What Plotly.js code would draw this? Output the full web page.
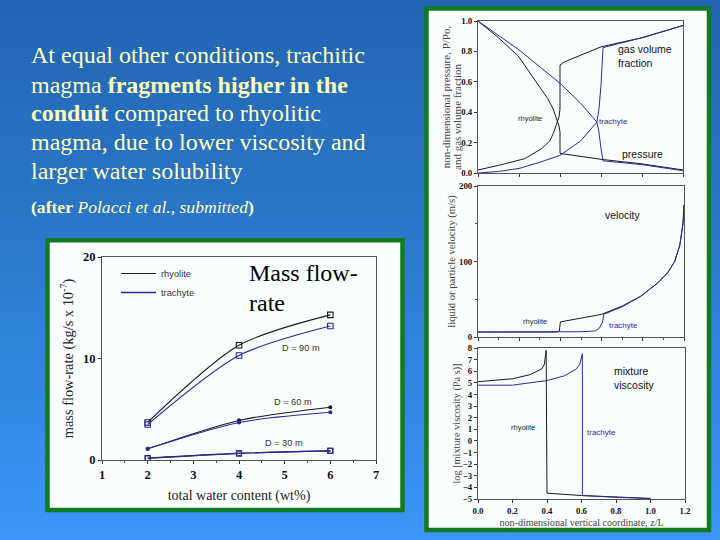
<!DOCTYPE html>
<html><head><meta charset="utf-8">
<script src="https://cdn.plot.ly/plotly-3.0.1.min.js"></script>
<style>html,body{margin:0;padding:0;width:720px;height:540px;overflow:hidden;background:linear-gradient(180deg,#2265b2 0%,#2b78cc 45%,#3a96f8 100%)}</style>
</head><body><div id="c" style="width:720px;height:540px"></div>
<script>
const BLACK='#1a1a1a', BLUE='#2a2a9a', PALE='#ffffb8';
// mass flow-rate panel
const water=[2,4,6];
const d90Rhy=[3.7,11.3,14.3], d90Tra=[3.5,10.3,13.2];
const d60Rhy=[1.1,3.9,5.2], d60Tra=[1.1,3.7,4.7];
const d30Rhy=[0.2,0.65,0.9], d30Tra=[0.15,0.65,0.9];
// pressure and gas fraction panel
const pRhyX=[0,0.1,0.196,0.29,0.34,0.367,0.383,0.395,0.4,0.4,0.42,0.6,0.8,1];
const pRhyY=[1,0.89,0.77,0.59,0.49,0.42,0.357,0.31,0.27,0.13,0.125,0.09,0.06,0.02];
const gRhyX=[0,0.1,0.228,0.31,0.35,0.367,0.383,0.395,0.4,0.4,0.42,0.6,0.8,1];
const gRhyY=[0.02,0.05,0.094,0.16,0.21,0.26,0.32,0.37,0.42,0.71,0.73,0.83,0.89,0.97];
const pTraX=[0,0.2,0.4,0.5,0.58,0.59,0.6,0.61,0.8,1];
const pTraY=[1,0.81,0.59,0.46,0.335,0.27,0.16,0.08,0.055,0.015];
const gTraX=[0,0.1,0.2,0.3,0.4,0.5,0.58,0.59,0.6,0.605,0.61,0.8,1];
const gTraY=[0,0.01,0.03,0.07,0.116,0.21,0.335,0.42,0.577,0.7,0.825,0.89,0.97];
// velocity panel
const vRhyX=[0,0.2,0.38,0.395,0.4,0.6,0.7,0.79,0.87,0.92,0.955,0.98,0.995,1];
const vRhyY=[6.6,6.6,6.6,8,20,30,41,54,71,85,100,122,150,175];
const vTraX=[0,0.3,0.5,0.57,0.59,0.605,0.61,0.7,0.79,0.87,0.92,0.955,0.98,0.995,1];
const vTraY=[6.6,6.6,7,8,12,20,30,40,54,71,85,100,122,150,175];
// viscosity panel
const mRhyX=[0,0.2,0.3,0.37,0.385,0.395,0.4,0.6,1];
const mRhyY=[5.1,5.35,5.7,6.2,6.6,7.8,-4.5,-4.7,-4.95];
const mTraX=[0,0.2,0.4,0.5,0.57,0.59,0.605,0.605,0.8,1];
const mTraY=[4.8,4.8,5.2,5.6,6.2,6.6,7.5,-4.7,-4.85,-4.97];
// text
const mainText=['At equal other conditions, trachitic','magma <b>fragments higher in the</b>','<b>conduit</b> compared to rhyolitic','magma, due to lower viscosity and','larger water solubility'];
const mainY=[55.5,85,112.5,141.5,170.5];
const afterText='<b>(after</b> <i>Polacci et al., submitted</i><b>)</b>';
const xLeftTicks=[1,2,3,4,5,6,7], yLeftTicks=[0,10,20];

const W=720,H=540;
const px=x=>x/W, py=y=>1-y/H;
const SERIF='"Liberation Serif",serif', SANS='"Liberation Sans",sans-serif';
function tr(x,y,c,xa,ya,w,extra){return Object.assign({x,y,xaxis:xa,yaxis:ya,mode:'lines',line:{color:c,width:w||1},showlegend:false,hoverinfo:'skip'},extra||{});}
function mf(y,c,sym,size){return tr(water,y,c,'x','y',1.1,{mode:'lines+markers',line:{color:c,width:1.1,shape:'spline',smoothing:0.8},marker:{symbol:sym,size:size,color:c,line:{color:c,width:1.1}}});}
const traces=[
 mf(d90Rhy,BLACK,'square-open',5.5),mf(d90Tra,BLUE,'square-open',5.5),
 mf(d60Rhy,BLACK,'circle',3),mf(d60Tra,BLUE,'circle',3),
 mf(d30Rhy,BLACK,'square-open',5),mf(d30Tra,BLUE,'square-open',5),
 tr(pRhyX,pRhyY,BLACK,'x2','y2'),tr(gRhyX,gRhyY,BLACK,'x2','y2'),
 tr(pTraX,pTraY,BLUE,'x2','y2'),tr(gTraX,gTraY,BLUE,'x2','y2'),
 tr(vRhyX,vRhyY,BLACK,'x3','y3'),tr(vTraX,vTraY,BLUE,'x3','y3'),
 tr(mRhyX,mRhyY,BLACK,'x4','y4'),tr(mTraX,mTraY,BLUE,'x4','y4'),
 {x:[null],y:[null],xaxis:'x',yaxis:'y',mode:'lines',name:'rhyolite',line:{color:BLACK,width:1},showlegend:true},
 {x:[null],y:[null],xaxis:'x',yaxis:'y',mode:'lines',name:'trachyte',line:{color:BLUE,width:1.4},showlegend:true}
];
const tf=s=>({family:SERIF,size:s,color:'#111',weight:'bold'});
const base={showgrid:false,zeroline:false,showline:true,linecolor:'#555',linewidth:1,mirror:true,ticks:'outside',tickcolor:'#333',ticklen:3,tickwidth:1};
function ann(text,xp,yp,size,fam,color,extra){return Object.assign({text,x:px(xp),y:py(yp),xref:'paper',yref:'paper',xanchor:'left',yanchor:'middle',showarrow:false,align:'left',font:{family:fam,size,color}},extra||{});}
const layout={
 width:W,height:H,autosize:false,margin:{l:0,r:0,t:0,b:0},paper_bgcolor:'rgba(0,0,0,0)',plot_bgcolor:'rgba(0,0,0,0)',
 showlegend:true,
 legend:{x:px(116),y:py(259),xanchor:'left',yanchor:'top',bgcolor:'rgba(0,0,0,0)',font:{family:SANS,size:9.3,color:'#333'},itemwidth:35,tracegroupgap:0,itemclick:false},
 xaxis:Object.assign({},base,{domain:[px(102),px(376)],range:[1,7],tickvals:xLeftTicks,tickfont:tf(12.5),anchor:'y',
   minor:{dtick:0.5,ticks:'outside',ticklen:2,tickcolor:'#555'},
   title:{text:'total water content (wt%)',font:{family:SERIF,size:14,color:'#222'},standoff:9}}),
 yaxis:Object.assign({},base,{domain:[py(460),py(257)],range:[0,20],tickvals:yLeftTicks,tickfont:tf(12.5),anchor:'x',
   title:{text:'mass flow-rate (kg/s x 10<sup>-7</sup>)',font:{family:SERIF,size:14.4,color:'#222'},standoff:5}}),
 xaxis2:Object.assign({},base,{domain:[px(478),px(683)],range:[0,1],dtick:0.2,showticklabels:false,anchor:'y2'}),
 yaxis2:Object.assign({},base,{domain:[py(173),py(21)],range:[0,1],dtick:0.2,tickformat:'.1f',tickfont:tf(8.8),anchor:'x2',
   title:{text:'non-dimensional pressure, P/Po,',font:{family:SERIF,size:11,color:'#444'},standoff:8}}),
 xaxis3:Object.assign({},base,{domain:[px(478),px(684)],range:[0,1],dtick:0.2,showticklabels:false,anchor:'y3',minor:{dtick:0.1,ticks:'outside',ticklen:2,tickcolor:'#555'}}),
 yaxis3:Object.assign({},base,{domain:[py(337),py(186)],range:[0,200],tickvals:[0,100,200],tickfont:tf(8.8),anchor:'x3',
   minor:{dtick:50,ticks:'outside',ticklen:2,tickcolor:'#555'},
   title:{text:'liquid or particle velocity (m/s)',font:{family:SERIF,size:10.6,color:'#444'},standoff:1}}),
 xaxis4:Object.assign({},base,{domain:[px(478),px(685)],range:[0,1.2],dtick:0.2,tickformat:'.1f',tickfont:tf(8.8),anchor:'y4',
   title:{text:'non-dimensional vertical coordinate, z/L',font:{family:SERIF,size:10.1,color:'#444'},standoff:4}}),
 yaxis4:Object.assign({},base,{domain:[py(499),py(348)],range:[-5,8],dtick:1,tickfont:tf(8.8),anchor:'x4',
   title:{text:'log [mixture viscosity (Pa s)]',font:{family:SERIF,size:10.3,color:'#444'},standoff:0}}),
 shapes:[
  {type:'rect',xref:'paper',yref:'paper',x0:px(47.5),x1:px(402.5),y0:py(510),y1:py(240.3),fillcolor:'#fafdfd',line:{color:'#127a22',width:4.5},layer:'below'},
  {type:'rect',xref:'paper',yref:'paper',x0:px(426.5),x1:px(709),y0:py(530),y1:py(8.5),fillcolor:'#fafdfd',line:{color:'#127a22',width:4.5},layer:'below'}
 ],
 annotations:[
  ...mainText.map((t,i)=>ann(t,29,mainY[i],24,SERIF,PALE)),
  ann(afterText,29,207,17.6,SERIF,PALE),
  ann('Mass flow-',247,273,24,SERIF,'#000'),
  ann('rate',247,303,24,SERIF,'#000'),
  ann('and gas volume fraction',457,117,11,SERIF,'#444',{textangle:-90,xanchor:'center'}),
  ann('D = 90 m',280,348,9.2,SANS,'#333'),
  ann('D = 60 m',272,402,9.2,SANS,'#333'),
  ann('D = 30 m',263,443,9.2,SANS,'#333'),
  ann('gas volume<br>fraction',616,56,10.5,SANS,'#111'),
  ann('pressure',620,154,10.5,SANS,'#111'),
  ann('rhyolite',516,118,7.5,SANS,'#222'),
  ann('trachyte',597,121,8,SANS,BLUE),
  ann('velocity',603,215,10.4,SANS,'#111'),
  ann('rhyolite',521,321,7.5,SANS,'#222'),
  ann('trachyte',607,325,8,SANS,BLUE),
  ann('mixture<br>viscosity',612,377.5,10.5,SANS,'#111'),
  ann('rhyolite',509,427,7.5,SANS,'#222'),
  ann('trachyte',585,432,8,SANS,BLUE)
 ]
};
Plotly.newPlot('c',traces,layout,{displayModeBar:false,staticPlot:true});
</script></body></html>
